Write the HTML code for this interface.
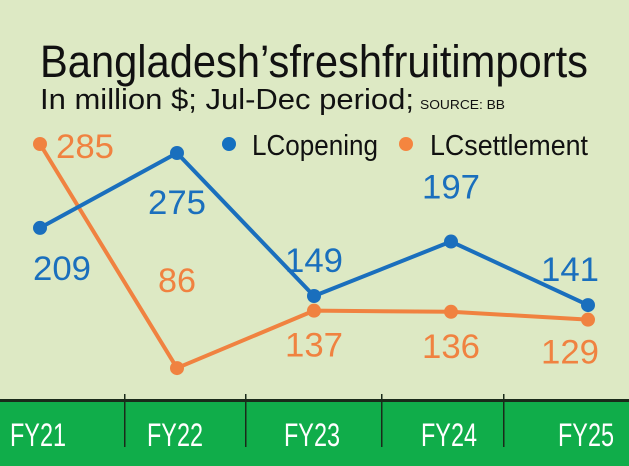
<!DOCTYPE html>
<html><head><meta charset="utf-8"><style>
html,body{margin:0;padding:0;background:#dde9c4;}
svg{display:block;font-family:"Liberation Sans",sans-serif;}
</style></head><body>
<svg width="629" height="466" viewBox="0 0 629 466">
<rect x="0" y="0" width="629" height="466" fill="#dde9c4"/>
<text x="40" y="77" font-size="45" fill="#111" textLength="548" lengthAdjust="spacingAndGlyphs">Bangladesh’sfreshfruitimports</text>
<text x="40" y="109" font-size="29" fill="#111" textLength="374" lengthAdjust="spacingAndGlyphs">In million $; Jul-Dec period;</text>
<text x="420" y="109" font-size="13" fill="#111" textLength="85" lengthAdjust="spacingAndGlyphs">SOURCE: BB</text>
<g>
<circle cx="229" cy="144" r="7" fill="#1470c0"/>
<text x="252" y="155" font-size="29" fill="#111" textLength="126" lengthAdjust="spacingAndGlyphs">LCopening</text>
</g>
<g>
<circle cx="406" cy="144" r="7" fill="#f5853f"/>
<text x="430" y="155" font-size="29" fill="#111" textLength="158" lengthAdjust="spacingAndGlyphs">LCsettlement</text>
</g>
<rect x="0" y="399" width="629" height="67" fill="#10ad4a"/>
<rect x="0" y="399" width="629" height="3" fill="#1a2a1a"/>
<g id="dividers"></g>
<g id="xlabels"></g>
<g id="series"></g>
</svg>
<script>
const categories=["FY21","FY22","FY23","FY24","FY25"];
const lcOpening=[209,275,149,197,141];
const lcSettlement=[285,86,137,136,129];
const NS="http://www.w3.org/2000/svg";
function xPos(i){return 40+i*137;}
function yBlue(v){return 153+(275-v)*1.135;}
function yOrange(v){return 144+(285-v)*1.126;}
const blueLabelOff=[[22,40],[0,49],[0,-36],[0,-55],[-18,-36]];
const orangeLabelOff=[[45,2],[0,-88],[0,34],[0,34],[-18,32]];
const xlab=document.getElementById('xlabels');
const divX=[124,245,381,503];
const dv=document.getElementById('dividers');
divX.forEach((x,i)=>{const l=document.createElementNS(NS,'rect');
l.setAttribute('x',x);l.setAttribute('y',394);l.setAttribute('width',1.5);l.setAttribute('height',53);l.setAttribute('fill','#1a2a1a');


dv.appendChild(l);});
categories.forEach((c,i)=>{const t=document.createElementNS(NS,'text');
t.setAttribute('x',xPos(i)-2);t.setAttribute('y',446);t.setAttribute('font-size','32');t.setAttribute('fill','#fff');
t.setAttribute('text-anchor','middle');t.setAttribute('textLength','56');t.setAttribute('lengthAdjust','spacingAndGlyphs');
t.textContent=c;


xlab.appendChild(t);});
const sg=document.getElementById('series');
function drawSeries(vals,yf,color,offs,name){
 const pl=document.createElementNS(NS,'polyline');
 pl.setAttribute('points',vals.map((v,i)=>xPos(i)+','+yf(v)).join(' '));
 pl.setAttribute('fill','none');pl.setAttribute('stroke',color);pl.setAttribute('stroke-width','4');pl.setAttribute('stroke-linejoin','round');
 
 
 sg.appendChild(pl);
 vals.forEach((v,i)=>{const c=document.createElementNS(NS,'circle');
  c.setAttribute('cx',xPos(i));c.setAttribute('cy',yf(v));c.setAttribute('r','7');c.setAttribute('fill',color);
  
  
  sg.appendChild(c);
  const t=document.createElementNS(NS,'text');
  t.setAttribute('x',xPos(i)+offs[i][0]);t.setAttribute('y',yf(v)+offs[i][1]+12);
  t.setAttribute('text-anchor','middle');t.setAttribute('font-size','34');t.setAttribute('fill',color);
  t.setAttribute('textLength','58');t.setAttribute('lengthAdjust','spacingAndGlyphs');
  t.textContent=v;
  if(String(v).length<3)t.setAttribute('textLength','38');
  
  
  sg.appendChild(t);});
}
drawSeries(lcSettlement,yOrange,'#f08240',orangeLabelOff,'lc-settlement');
drawSeries(lcOpening,yBlue,'#1a6fbd',blueLabelOff,'lc-opening');
</script>
</body></html>
